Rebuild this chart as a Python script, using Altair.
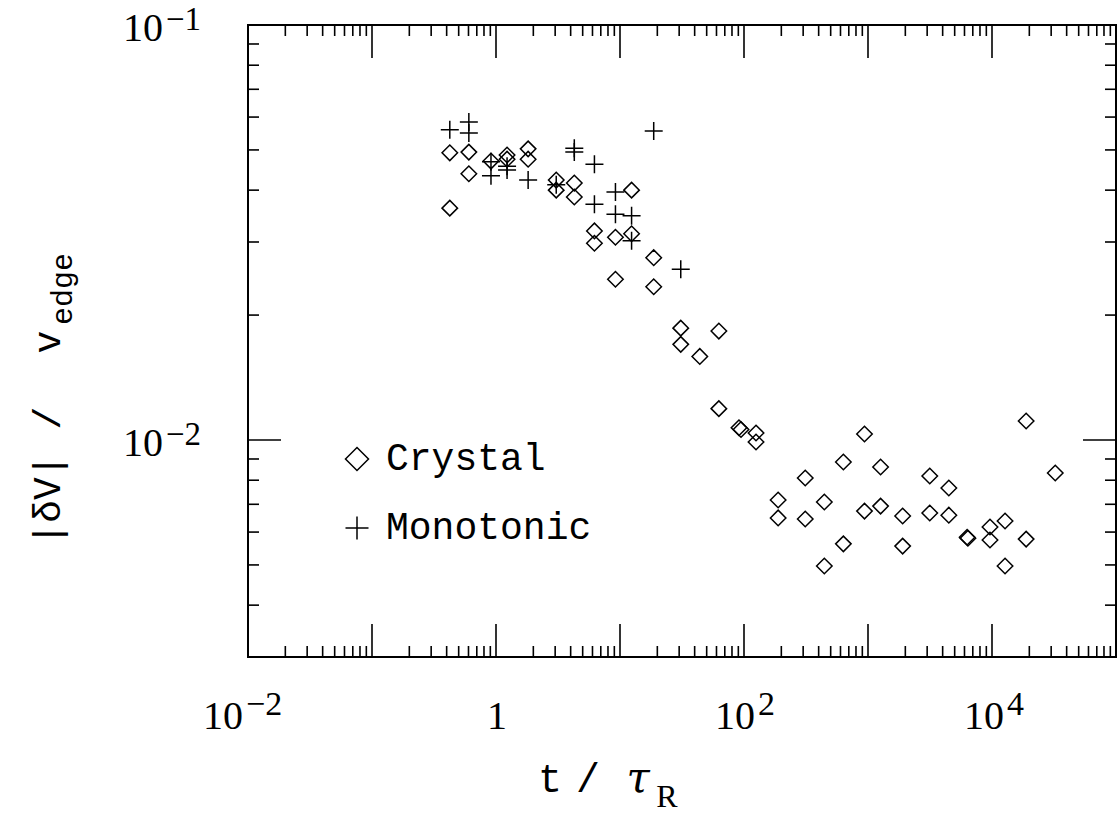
import altair as alt
import pandas as pd

# ---------------- data ----------------
crystal_t = [0.424, 0.424, 0.604, 0.604, 0.911, 1.228, 1.228, 1.816, 1.816,
             3.06, 3.06, 4.28, 4.28, 12.4, 6.22, 6.22, 9.19, 12.4, 18.7, 9.19,
             18.7, 30.9, 30.9, 62.7, 44.0, 62.7, 91.1, 94.6, 125, 125,
             188.5, 188.5, 311.8, 311.8, 444.4, 444.4, 633, 633, 937, 937,
             1263, 1263, 1903, 1903, 3148, 3148, 4486, 4486, 6394, 6300,
             9634, 9634, 12740, 12740, 18850, 18850, 32370]
crystal_v = [0.0492, 0.0362, 0.0494, 0.0438, 0.0470, 0.0486, 0.0475, 0.0503, 0.0475,
             0.0423, 0.0400, 0.0416, 0.0385, 0.0400, 0.0319, 0.0298, 0.0308, 0.0314, 0.0275, 0.0244,
             0.0234, 0.0186, 0.0170, 0.0183, 0.0159, 0.0119, 0.0107, 0.0106, 0.0104, 0.00989,
             0.00717, 0.00649, 0.00810, 0.00645, 0.00709, 0.00497, 0.00885, 0.00562, 0.01034, 0.00674,
             0.00861, 0.00693, 0.00656, 0.00555, 0.00819, 0.00667, 0.00766, 0.00659, 0.00580, 0.00583,
             0.00617, 0.00574, 0.00638, 0.00497, 0.01111, 0.00577, 0.00833]

mono_t = [0.424, 0.604, 0.604, 0.911, 0.911, 1.228, 1.228, 1.816, 3.06,
          4.28, 4.28, 6.22, 6.22, 9.19, 9.19, 12.4, 12.4, 18.7, 30.9]
mono_v = [0.0559, 0.0584, 0.0549, 0.0468, 0.0433, 0.0457, 0.0447, 0.0423, 0.0412,
          0.0505, 0.0494, 0.0462, 0.0370, 0.0396, 0.0350, 0.0347, 0.0302, 0.0555, 0.0258]

series_names = ["Crystal", "Monotonic"]

x_minor_ticks = [2e-2, 3e-2, 4e-2, 5e-2, 6e-2, 7e-2, 8e-2, 9e-2,
                 0.2, 0.3, 0.4, 0.5, 0.6, 0.7, 0.8, 0.9,
                 2, 3, 4, 5, 6, 7, 8, 9,
                 20, 30, 40, 50, 60, 70, 80, 90,
                 200, 300, 400, 500, 600, 700, 800, 900,
                 2000, 3000, 4000, 5000, 6000, 7000, 8000, 9000,
                 20000, 30000, 40000, 50000, 60000, 70000, 80000, 90000]
x_major_ticks = [0.01, 0.1, 1, 10, 100, 1000, 10000, 100000]
y_minor_ticks = [0.003, 0.004, 0.005, 0.006, 0.007, 0.008, 0.009,
                 0.02, 0.03, 0.04, 0.05, 0.06, 0.07, 0.08, 0.09]
y_major_ticks = [0.01, 0.1]

# tick labels: base and superscript exponent
x_label_values = [0.01, 1, 100, 10000]
x_label_bases = ["10", "1", "10", "10"]
x_label_exps = ["−2", "", "2", "4"]
y_label_values = [0.01, 0.1]
y_label_bases = ["10", "10"]
y_label_exps = ["−2", "−1"]

x_title_parts = ["t", "/", "τ", "R"]
y_title_parts = ["|δV|", "/", "v", "edge"]

# ---------------- build ----------------
W, H = 868, 632
MINOR, MAJOR = 11, 33
BASE_FS, EXP_FS = 40, 34
LABEL_FONT = "Liberation Serif"

crystal_df = pd.DataFrame({"t": crystal_t, "v": crystal_v, "series": series_names[0]})
mono_df = pd.DataFrame({"t": mono_t, "v": mono_v, "series": series_names[1]})

xscale = alt.Scale(type="log", domain=[0.01, 1e5], nice=False)
yscale = alt.Scale(type="log", domain=[0.003, 0.1], nice=False)

cross_path = "M-1,0L1,0M0,-1L0,1"
shape_scale = alt.Scale(domain=series_names, range=["diamond", cross_path])
legend = alt.Legend(orient="none", legendX=90, legendY=415, title=None,
                    labelFont="Liberation Mono", labelFontSize=38, labelLimit=0,
                    labelColor="black", symbolSize=530,
                    symbolStrokeWidth=1.5, symbolStrokeColor="black",
                    symbolFillColor="transparent",
                    labelOffset=10, rowPadding=31, padding=0)

def point_layer(df, size):
    return alt.Chart(df).mark_point(filled=False, strokeWidth=1.5, color="black",
                                    opacity=1, size=size).encode(
        x=alt.X("t:Q", scale=xscale, axis=None),
        y=alt.Y("v:Q", scale=yscale, axis=None),
        shape=alt.Shape("series:N", scale=shape_scale, legend=legend),
    )

crystal_pts = point_layer(crystal_df, 240)
mono_pts = point_layer(mono_df, 324)

def xrules(vals, y0, y1):
    df = pd.DataFrame({"t": vals})
    return alt.Chart(df).mark_rule(color="black", strokeWidth=1.6).encode(
        x=alt.X("t:Q", scale=xscale, axis=None),
        y=alt.value(y0), y2=alt.value(y1))

def yrules(vals, x0, x1):
    df = pd.DataFrame({"v": vals})
    return alt.Chart(df).mark_rule(color="black", strokeWidth=1.6).encode(
        y=alt.Y("v:Q", scale=yscale, axis=None),
        x=alt.value(x0), x2=alt.value(x1))

ticks = [
    xrules(x_minor_ticks, H, H - MINOR), xrules(x_minor_ticks, 0, MINOR),
    xrules(x_major_ticks, H, H - MAJOR), xrules(x_major_ticks, 0, MAJOR),
    yrules(y_minor_ticks, 0, MINOR), yrules(y_minor_ticks, W, W - MINOR),
    yrules(y_major_ticks, 0, MAJOR), yrules(y_major_ticks, W, W - MAJOR),
]

# x tick labels (base + raised exponent), placed through the x scale
X_BASE_Y = 729 - 25
X_EXP_Y = 715 - 25
x_label_offsets = {0: (-5, -2), 1: (1, 0), 2: (11, 14), 3: (12, 15)}
xlabels = []
for i, val in enumerate(x_label_values):
    df = pd.DataFrame({"t": [val], "b": [x_label_bases[i]], "e": [x_label_exps[i]]})
    bdx, edx = x_label_offsets[i]
    if x_label_exps[i]:
        xlabels.append(alt.Chart(df).mark_text(
            font=LABEL_FONT, fontSize=BASE_FS, color="black", align="right",
            baseline="alphabetic", dx=bdx).encode(
            x=alt.X("t:Q", scale=xscale, axis=None), y=alt.value(X_BASE_Y), text="b:N"))
        xlabels.append(alt.Chart(df).mark_text(
            font=LABEL_FONT, fontSize=EXP_FS, color="black", align="left",
            baseline="alphabetic", dx=edx).encode(
            x=alt.X("t:Q", scale=xscale, axis=None), y=alt.value(X_EXP_Y), text="e:N"))
    else:
        xlabels.append(alt.Chart(df).mark_text(
            font=LABEL_FONT, fontSize=BASE_FS, color="black", align="center",
            baseline="alphabetic", dx=bdx).encode(
            x=alt.X("t:Q", scale=xscale, axis=None), y=alt.value(X_BASE_Y), text="b:N"))

# y tick labels
ylab_df = pd.DataFrame({"v": y_label_values, "b": y_label_bases, "e": y_label_exps})
ylabels = [
    alt.Chart(ylab_df).mark_text(font=LABEL_FONT, fontSize=BASE_FS, color="black",
                                 align="right", baseline="alphabetic", dy=16).encode(
        y=alt.Y("v:Q", scale=yscale, axis=None), x=alt.value(-85), text="b:N"),
    alt.Chart(ylab_df).mark_text(font=LABEL_FONT, fontSize=33, color="black",
                                 align="left", baseline="alphabetic", dy=5).encode(
        y=alt.Y("v:Q", scale=yscale, axis=None), x=alt.value(-82), text="e:N"),
]

one = pd.DataFrame({"a": [0]})

def txt(s, x, y, size, font, angle=0, baseline="alphabetic", style="normal"):
    kw = dict(font=font, fontSize=size, color="black", align="center", baseline=baseline, fontStyle=style)
    if angle:
        kw["angle"] = angle
    return alt.Chart(one).mark_text(**kw).encode(
        x=alt.value(x), y=alt.value(y), text=alt.value(s))

# positions relative to plot origin (248, 25)
titles = [
    txt(x_title_parts[0], 550 - 248, 792 - 25, 40, "Liberation Mono"),
    txt(x_title_parts[1], 588 - 248, 792 - 25, 40, "Liberation Mono"),
    txt(x_title_parts[2], 638 - 248, 792 - 25, 42, "DejaVu Serif", style="italic"),
    txt(x_title_parts[3], 667 - 248, 807 - 25, 32, "Liberation Serif"),
    txt(y_title_parts[0], 60 - 248, 500 - 25, 38, "Liberation Mono", angle=270),
    txt(y_title_parts[1], 60 - 248, 418 - 25, 38, "Liberation Mono", angle=270),
    txt(y_title_parts[2], 60 - 248, 342 - 25, 38, "Liberation Mono", angle=270),
    txt(y_title_parts[3], 72 - 248, 289 - 25, 30, "Liberation Mono", angle=270),
]

chart = alt.layer(crystal_pts, mono_pts, *ticks, *xlabels, *ylabels, *titles).properties(
    width=W, height=H,
    autosize=alt.AutoSizeParams(type="none"),
    padding={"left": 248, "top": 25, "right": 4, "bottom": 157},
    background="white",
).configure_view(stroke="black", strokeWidth=2)

chart.save("out.html", embed_options={"renderer": "svg", "actions": False})
